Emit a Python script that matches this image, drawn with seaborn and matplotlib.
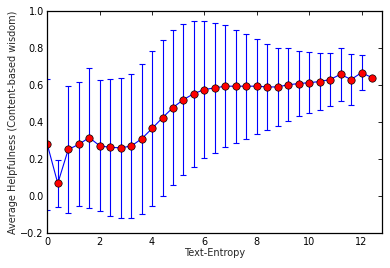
import matplotlib
matplotlib.use("Agg")
import matplotlib.pyplot as plt
import seaborn as sns
import pandas as pd

entropy = [0.0, 0.4, 0.8, 1.2, 1.6, 2.0, 2.4, 2.8, 3.2, 3.6, 4.0, 4.4, 4.8, 5.2, 5.6, 6.0,
           6.4, 6.8, 7.2, 7.6, 8.0, 8.4, 8.8, 9.2, 9.6, 10.0, 10.4, 10.8, 11.2, 11.6, 12.0, 12.4]
helpfulness = [0.279, 0.069, 0.252, 0.279, 0.316, 0.272, 0.263, 0.261, 0.270, 0.309, 0.365,
               0.423, 0.478, 0.521, 0.553, 0.575, 0.584, 0.593, 0.593, 0.593, 0.593, 0.589,
               0.589, 0.601, 0.607, 0.612, 0.618, 0.629, 0.657, 0.629, 0.666, 0.639]
std_err = [0.352, 0.126, 0.343, 0.334, 0.377, 0.354, 0.368, 0.376, 0.388, 0.404, 0.416,
           0.421, 0.417, 0.406, 0.393, 0.371, 0.352, 0.329, 0.304, 0.282, 0.256, 0.231,
           0.210, 0.196, 0.176, 0.165, 0.155, 0.145, 0.142, 0.138, 0.096, 0.0]
x_ticks = [0, 2, 4, 6, 8, 10, 12]
y_ticks = [-0.2, 0.0, 0.2, 0.4, 0.6, 0.8, 1.0]

df = pd.DataFrame({"x": entropy, "y": helpfulness, "e": std_err})

sns.set_style("white")
plt.rcParams["font.family"] = ["DejaVu Sans"]
plt.rcParams["font.size"] = 7

fig = plt.figure(figsize=(3.9, 2.68), dpi=100)
ax = fig.add_axes([0.1213, 0.1295, 0.8574, 0.8306])

ax.errorbar(df["x"], df["y"], yerr=df["e"], fmt="none", ecolor="blue",
            elinewidth=0.8, capsize=2.2, capthick=0.8, zorder=1)
sns.lineplot(data=df, x="x", y="y", ax=ax, color="blue", lw=0.8, marker="o",
             markersize=5.3, markerfacecolor="red", markeredgecolor="black",
             markeredgewidth=0.5, zorder=2)

ax.set_xlim(0, 12.77)
ax.set_ylim(-0.2, 1.0)
ax.set_xticks(x_ticks)
ax.set_yticks(y_ticks)
ax.set_yticklabels([f"{v:.1f}".replace("-", "\u2212") for v in y_ticks])
ax.tick_params(direction="in", top=True, right=True, length=3, width=0.6,
               labelsize=7, pad=2.5, colors="black")
for s in ax.spines.values():
    s.set_color("black")
    s.set_linewidth(0.9)
ax.set_xlabel("Text-Entropy", fontsize=7, labelpad=1)
ax.set_ylabel("Average Helpfulness (Content-based wisdom)", fontsize=7, labelpad=2)

fig.savefig("out.png", dpi=100)
